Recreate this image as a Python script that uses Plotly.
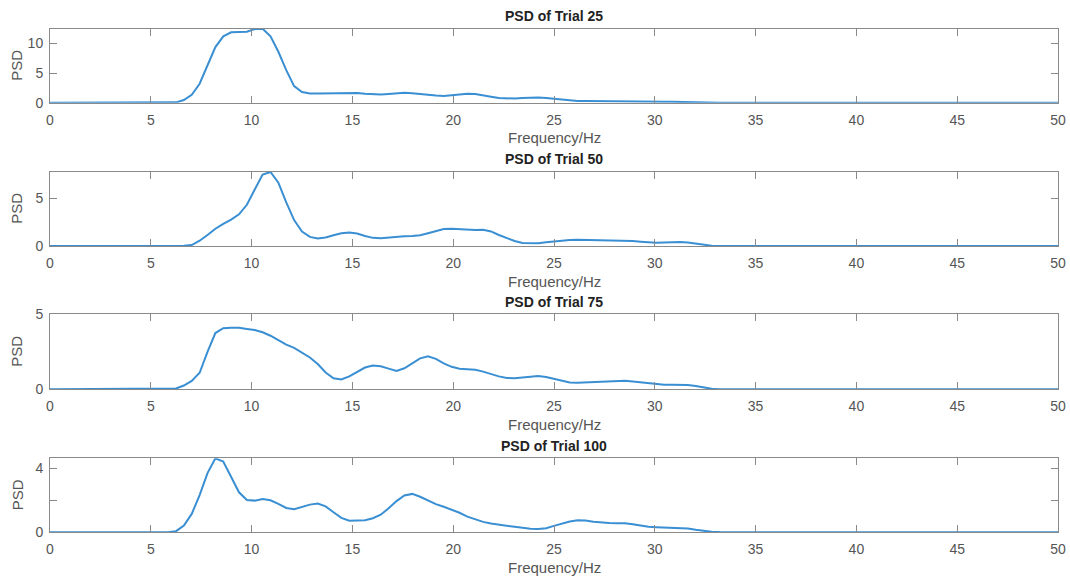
import plotly.graph_objects as go

# Welch PSD frequency bins (Hz)
freq = [0.0,
        4.688, 5.078, 5.469, 5.859, 6.25, 6.641, 7.031, 7.422, 7.813, 8.203,
        8.594, 8.984, 9.375, 9.766, 10.156, 10.547, 10.938, 11.328, 11.719, 12.109,
        12.5, 12.891, 13.281, 13.672, 14.063, 14.453, 14.844, 15.234, 15.625, 16.016,
        16.406, 16.797, 17.188, 17.578, 17.969, 18.359, 18.75, 19.141, 19.531, 19.922,
        20.313, 20.703, 21.094, 21.484, 21.875, 22.266, 22.656, 23.047, 23.438, 23.828,
        24.219, 24.609, 25.0, 25.391, 25.781, 26.172, 26.563, 26.953, 27.344, 27.734,
        28.125, 28.516, 28.906, 29.297, 29.688, 30.078, 30.469, 30.859, 31.25, 31.641,
        32.031, 32.422, 32.813, 33.203, 33.594, 33.984, 34.375, 34.766, 35.156,
        50.0]

psd_trial25 = [0.0,
        0, 0, 0, 0.01, 0.06, 0.45, 1.35, 3.2, 6.4, 9.4,
        11.2, 11.9, 11.95, 12.0, 12.45, 12.5, 11.2, 8.6, 5.5, 2.8,
        1.8, 1.55, 1.55, 1.58, 1.62, 1.65, 1.68, 1.65, 1.5, 1.38,
        1.38, 1.48, 1.6, 1.68, 1.6, 1.45, 1.32, 1.2, 1.15, 1.3,
        1.42, 1.5, 1.48, 1.3, 1.02, 0.78, 0.68, 0.7, 0.8, 0.88,
        0.86, 0.78, 0.66, 0.48, 0.34, 0.28, 0.27, 0.27, 0.28, 0.28,
        0.28, 0.27, 0.26, 0.25, 0.23, 0.22, 0.18, 0.14, 0.1, 0.06,
        0.03, 0.015, 0.01, 0, 0, 0, 0, 0, 0,
        0.0]

psd_trial50 = [0.0,
        0, 0, 0, 0, 0.005, 0.02, 0.1, 0.55, 1.15, 1.8,
        2.3, 2.75, 3.3, 4.3, 5.9, 7.45, 7.72, 6.6, 4.55, 2.7,
        1.5, 0.95, 0.78, 0.88, 1.12, 1.33, 1.42, 1.3, 1.05, 0.85,
        0.82, 0.9, 1.0, 1.03, 1.05, 1.12, 1.33, 1.58, 1.77, 1.8,
        1.75, 1.68, 1.68, 1.7, 1.52, 1.15, 0.8, 0.52, 0.32, 0.27,
        0.29, 0.4, 0.5, 0.58, 0.63, 0.66, 0.65, 0.64, 0.63, 0.61,
        0.59, 0.57, 0.52, 0.45, 0.38, 0.34, 0.36, 0.4, 0.42, 0.36,
        0.24, 0.1, 0.03, 0.01, 0, 0, 0, 0, 0,
        0.0]

psd_trial75 = [0.0,
        0, 0, 0, 0.005, 0.05, 0.25, 0.56, 1.1, 2.5, 3.75,
        4.07, 4.11, 4.1, 4.02, 3.95, 3.8, 3.57, 3.28, 2.98, 2.76,
        2.45, 2.12, 1.68, 1.12, 0.74, 0.65, 0.86, 1.18, 1.45, 1.58,
        1.54, 1.38, 1.23, 1.4, 1.75, 2.06, 2.2, 2.03, 1.73, 1.5,
        1.37, 1.32, 1.3, 1.18, 1.0, 0.86, 0.76, 0.74, 0.79, 0.85,
        0.89, 0.82, 0.68, 0.55, 0.45, 0.43, 0.45, 0.47, 0.5, 0.54,
        0.57, 0.57, 0.52, 0.46, 0.39, 0.33, 0.31, 0.3, 0.3, 0.29,
        0.22, 0.11, 0.04, 0.01, 0, 0, 0, 0, 0,
        0.0]

psd_trial100 = [0.0,
        0, 0, 0, 0.005, 0.07, 0.42, 1.15, 2.33, 3.7, 4.62,
        4.42, 3.45, 2.5, 2.02, 1.98, 2.08, 2.0, 1.78, 1.52, 1.44,
        1.57, 1.73, 1.8, 1.62, 1.25, 0.9, 0.72, 0.72, 0.76, 0.88,
        1.1, 1.5, 1.95, 2.3, 2.4, 2.22, 2.0, 1.76, 1.6, 1.43,
        1.22, 0.98, 0.8, 0.65, 0.55, 0.47, 0.4, 0.34, 0.28, 0.22,
        0.21, 0.25, 0.4, 0.55, 0.68, 0.75, 0.73, 0.66, 0.6, 0.58,
        0.57, 0.56, 0.5, 0.42, 0.35, 0.32, 0.3, 0.3, 0.29, 0.24,
        0.16, 0.09, 0.04, 0.02, 0, 0, 0, 0, 0,
        0.0]

titles = ["PSD of Trial 25", "PSD of Trial 50", "PSD of Trial 75", "PSD of Trial 100"]
series = [psd_trial25, psd_trial50, psd_trial75, psd_trial100]
y_max = [12.5, 7.75, 5.0, 4.625]
y_tickvals = [[0, 5, 10], [0, 5], [0, 5], [0, 2, 4]]
y_ticktext = [["0", "5", "10"], ["0", "5"], ["0", "5"], ["0", "", "4"]]
x_tickvals = [0, 5, 10, 15, 20, 25, 30, 35, 40, 45, 50]

W, H = 1070, 579
# panel frames in page pixels: (top, bottom)
frames = [(28.7, 102.7), (171.7, 246.0), (314.3, 389.3), (458.3, 532.3)]
x_left, x_right = 50, 1058

LINE = "#3a8fd3"
FRAME = "#8a8a8a"
TICKTXT = "#555555"
FONT = "Liberation Sans, Arial, sans-serif"

fig = go.Figure()
annotations = []
layout = {}
for i, (name, vals) in enumerate(zip(titles, series)):
    n = "" if i == 0 else str(i + 1)
    top, bot = frames[i]
    fig.add_trace(go.Scatter(x=freq, y=vals, mode="lines",
                             line=dict(color=LINE, width=2),
                             xaxis="x" + n, yaxis="y" + n,
                             showlegend=False, hoverinfo="skip"))
    common = dict(showline=True, mirror="ticks", linecolor=FRAME, linewidth=1,
                  ticks="inside", ticklen=7, tickcolor=FRAME, tickwidth=1,
                  showgrid=False, zeroline=False, automargin=False,
                  tickfont=dict(family=FONT, size=14, color=TICKTXT))
    layout["xaxis" + n] = dict(common, domain=[x_left / W, x_right / W],
                               anchor="y" + n, range=[0, 50],
                               tickvals=x_tickvals, ticklabelstandoff=4)
    layout["yaxis" + n] = dict(common, domain=[1 - bot / H, 1 - top / H],
                               anchor="x" + n, range=[0, y_max[i]],
                               tickvals=y_tickvals[i], ticktext=y_ticktext[i],
                               ticklabelstandoff=3)
    annotations.append(dict(text="<b>" + name + "</b>", xref="paper", yref="paper",
                            x=(x_left + x_right) / 2 / W, y=1 - (top - 12.5) / H,
                            xanchor="center", yanchor="middle", showarrow=False,
                            font=dict(family=FONT, size=14, color="#222222")))
    annotations.append(dict(text="Frequency/Hz", xref="paper", yref="paper",
                            x=(x_left + x_right) / 2 / W, y=1 - (bot + 35) / H,
                            xanchor="center", yanchor="middle", showarrow=False,
                            font=dict(family=FONT, size=15, color=TICKTXT)))
    annotations.append(dict(text="PSD", xref="paper", yref="paper",
                            x=17 / W, y=1 - (top + bot) / 2 / H, textangle=-90,
                            xanchor="center", yanchor="middle", showarrow=False,
                            font=dict(family=FONT, size=15, color=TICKTXT)))

fig.update_layout(width=W, height=H, margin=dict(l=0, r=0, t=0, b=0),
                  paper_bgcolor="white", plot_bgcolor="white",
                  annotations=annotations, **layout)

fig.write_html("out.html")
